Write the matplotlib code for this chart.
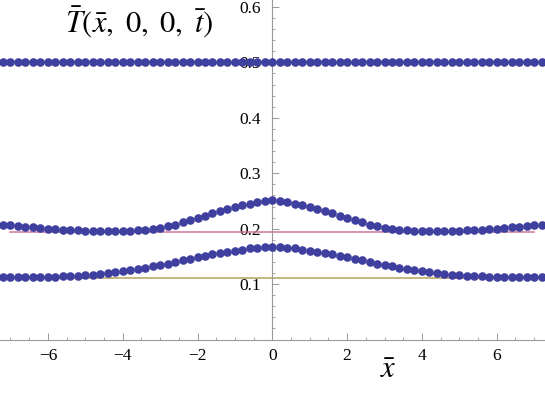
import numpy as np
import matplotlib
matplotlib.use("Agg")
import matplotlib.pyplot as plt
from matplotlib.ticker import MultipleLocator, FixedLocator

plt.rcParams['mathtext.fontset'] = 'stix'
plt.rcParams['font.family'] = ['Liberation Serif', 'DejaVu Serif']

# sample points (step 0.2), curves are symmetric about x = 0
x_half = [0.0, 0.2, 0.4, 0.6, 0.8, 1.0, 1.2, 1.4, 1.6, 1.8, 2.0, 2.2, 2.4, 2.6,
          2.8, 3.0, 3.2, 3.4, 3.6, 3.8, 4.0, 4.2, 4.4, 4.6, 4.8, 5.0, 5.2, 5.4,
          5.6, 5.8, 6.0, 6.2, 6.4, 6.6, 6.8, 7.0, 7.2]
top_half = [0.5] * len(x_half)
mid_half = [0.2509, 0.2495, 0.2475, 0.2448, 0.2425, 0.2395, 0.2360, 0.2322,
            0.2280, 0.2235, 0.2192, 0.2151, 0.2112, 0.2075, 0.2043, 0.2018,
            0.1998, 0.1984, 0.1973, 0.1966, 0.1962, 0.1960, 0.1960, 0.1960,
            0.1962, 0.1965, 0.1970, 0.1976, 0.1983, 0.1992, 0.2001, 0.2012,
            0.2024, 0.2036, 0.2048, 0.2061, 0.2073]
low_half = [0.1667, 0.1667, 0.1654, 0.1643, 0.1620, 0.1605, 0.1583, 0.1563,
            0.1537, 0.1511, 0.1487, 0.1457, 0.1428, 0.1398, 0.1369, 0.1344,
            0.1318, 0.1292, 0.1270, 0.1249, 0.1230, 0.1212, 0.1196, 0.1182,
            0.1170, 0.1160, 0.1152, 0.1145, 0.1140, 0.1135, 0.1131, 0.1128,
            0.1126, 0.1124, 0.1123, 0.1122, 0.1121]

# equilibrium levels drawn as thin lines
line_x = [-7.0, 7.0]
levels = [0.5, 0.1935, 0.1105]
level_colors = ['#3d3d99', '#c0608f', '#a89040']

def mirror(xs, ys, neg_x=False):
    if neg_x:
        return [-v for v in xs[:0:-1]] + list(xs)
    return list(ys[:0:-1]) + list(ys)

x = mirror(x_half, None, neg_x=True)
series = [mirror(x_half, top_half), mirror(x_half, mid_half), mirror(x_half, low_half)]

fig = plt.figure(figsize=(5.45, 3.95), dpi=100)
ax = fig.add_axes([0, 0, 1, 1])
ax.set_xlim(-7.28, 7.29)
ax.set_ylim(-0.1, 0.6125)

for lv, c in zip(levels, level_colors):
    ax.plot(line_x, [lv, lv], color=c, lw=1.1, alpha=0.85, zorder=2)

for ys in series:
    ax.plot(x, ys, 'o', color='#3f3f9f', ms=6.2, mec='none', zorder=4)

for s in ['top', 'right']:
    ax.spines[s].set_visible(False)
ax.spines['left'].set_position(('data', 0))
ax.spines['bottom'].set_position(('data', 0))
ax.spines['left'].set_bounds(0, 0.6125)
for s in ['left', 'bottom']:
    ax.spines[s].set_color('#999999')
    ax.spines[s].set_linewidth(0.8)
    ax.spines[s].set_zorder(3)

ax.set_xticks([-6, -4, -2, 0, 2, 4, 6])
ax.set_xticklabels(['\u22126', '\u22124', '\u22122', '0', '2', '4', '6'])
ax.xaxis.set_minor_locator(MultipleLocator(0.5))
ax.set_yticks([0.1, 0.2, 0.3, 0.4, 0.5, 0.6])
ax.set_yticklabels(['0.1', '0.2', '0.3', '0.4', '0.5', '0.6'])
ax.yaxis.set_minor_locator(FixedLocator([i * 0.02 for i in range(1, 31)]))
ax.tick_params(which='major', direction='in', length=5, width=0.7,
               color='#999999', labelsize=12.5, pad=6)
ax.tick_params(which='minor', direction='in', length=2.5, width=0.6,
               color='#999999')
ax.tick_params(axis='y', pad=8)

fig.text(0.392, 0.944, r'$\bar{T}(\bar{x},\ 0,\ 0,\ \bar{t})$', ha='right',
         va='center', fontsize=22)
fig.text(0.712, 0.062, r'$\bar{x}$', ha='center', va='center', fontsize=22)

fig.savefig('out.png', dpi=100)
